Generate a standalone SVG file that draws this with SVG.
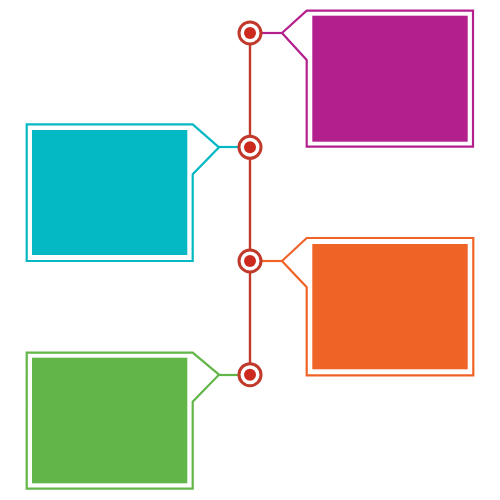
<svg xmlns="http://www.w3.org/2000/svg" width="500" height="500" viewBox="0 0 500 500">
<style>
.out{fill:none;stroke-width:2.2;stroke-linejoin:miter}
.lnk{stroke-width:2.2}
.ring{fill:#fff;stroke:#c0392b;stroke-width:3}
.dot{fill:#cc2a1f}
</style>
<rect width="500" height="500" fill="#fff"/>
<g id="connectors">
<line x1="250" y1="33" x2="250" y2="375" stroke="#c0392b" stroke-width="2.4"/>
<line class="lnk" x1="262" y1="33" x2="282" y2="33" stroke="#b41f8e"/>
<line class="lnk" x1="219" y1="147" x2="238" y2="147" stroke="#04b8c4"/>
<line class="lnk" x1="262" y1="261" x2="282" y2="261" stroke="#ef6426"/>
<line class="lnk" x1="219" y1="375" x2="238" y2="375" stroke="#62b547"/>
</g>
<g id="node1">
<path class="out" stroke="#b41f8e" d="M282,33 L306.7,10.7 H473 V146.7 H306.7 V60 Z"/>
<rect x="312.3" y="15.7" width="155.4" height="126" fill="#b41f8e"/>
<circle class="ring" cx="250" cy="33" r="11"/>
<circle class="dot" cx="250" cy="33" r="6"/>
</g>
<g id="node2">
<path class="out" stroke="#04b8c4" d="M219,147.3 L192.7,124.3 H26.7 V261 H192.7 V174.3 Z"/>
<rect x="32" y="130" width="155.3" height="125" fill="#04b8c4"/>
<circle class="ring" cx="250" cy="147.3" r="11"/>
<circle class="dot" cx="250" cy="147.3" r="6"/>
</g>
<g id="node3">
<path class="out" stroke="#ef6426" d="M282,261 L306.7,238 H473.3 V375.3 H306.7 V287.3 Z"/>
<rect x="312.3" y="244" width="155.4" height="125.3" fill="#ef6426"/>
<circle class="ring" cx="250" cy="261" r="11"/>
<circle class="dot" cx="250" cy="261" r="6"/>
</g>
<g id="node4">
<path class="out" stroke="#62b547" d="M219,374.7 L192.7,352.7 H26.7 V488.7 H192.7 V401.7 Z"/>
<rect x="32" y="357.7" width="155.3" height="125.6" fill="#62b547"/>
<circle class="ring" cx="250" cy="374.7" r="11"/>
<circle class="dot" cx="250" cy="374.7" r="6"/>
</g>
</svg>
